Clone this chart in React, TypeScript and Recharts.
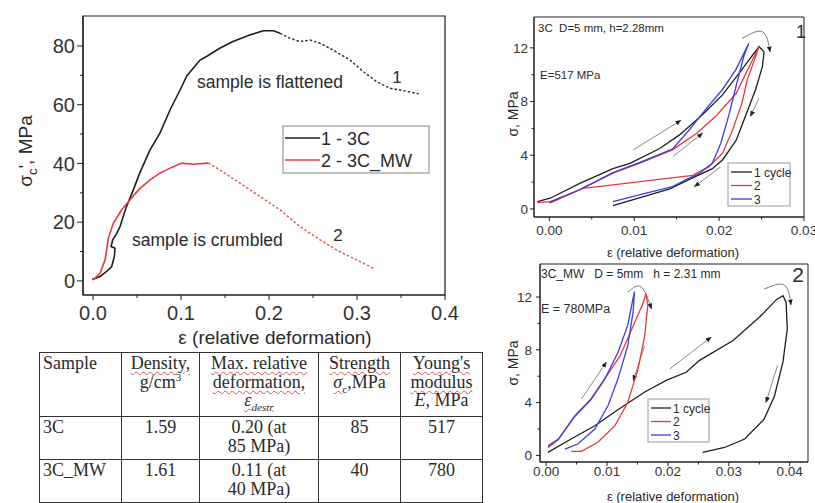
import React from 'react';
import { LineChart, Line, XAxis, YAxis, ReferenceArea, ReferenceLine } from 'recharts';

type Pt = { x: number; y: number };
const toPts = (a: number[][]): Pt[] => a.map(([x, y]) => ({ x, y }));

// ---------------- main chart (compression curves) ----------------
const MAIN_SERIES_NAMES = ['1 - 3C', '2 - 3C_MW'];
const MAIN_3C_SOLID = [
  [-0.001, 0.5], [0.008, 1.5], [0.0155, 3.2], [0.0212, 4.9], [0.0242, 8.3], [0.025, 11.1], [0.0205, 11.7],
  [0.0224, 14], [0.0269, 16.2], [0.0307, 18.5], [0.038, 25.3], [0.0458, 31], [0.053, 36.7], [0.0648, 44.6],
  [0.076, 50.3], [0.0875, 58.2], [0.0989, 65], [0.1065, 69.8], [0.1216, 75.2], [0.129, 76.4], [0.144, 79.2],
  [0.159, 81.5], [0.178, 83.7], [0.1935, 85.2], [0.205, 85.2], [0.2125, 84.3],
];
const MAIN_3C_DASHED = [
  [0.2125, 84.3], [0.224, 82.6], [0.235, 81.5], [0.2466, 82], [0.258, 80.9], [0.273, 78.6], [0.292, 75.2],
  [0.307, 71.3], [0.322, 67.9], [0.3375, 65.6], [0.3526, 64.8], [0.37, 63.7],
];
const MAIN_MW_SOLID = [
  [0, 0.3], [0.008, 2.6], [0.0136, 7.1], [0.0174, 14.5], [0.023, 19.6], [0.0326, 24.2], [0.042, 27.6],
  [0.0534, 31.5], [0.0648, 34.4], [0.076, 36.7], [0.0875, 38.4], [0.1008, 40.1], [0.114, 39.7], [0.131, 40.1],
];
const MAIN_MW_DASHED = [
  [0.131, 40.1], [0.144, 37.8], [0.167, 33.3], [0.19, 28.7], [0.2125, 24.2], [0.235, 18.5], [0.258, 14],
  [0.28, 10], [0.3, 7.1], [0.3205, 4.0],
];
const MAIN_X_TICKS = [0, 0.05, 0.1, 0.15, 0.2, 0.25, 0.3, 0.35, 0.4];
const MAIN_Y_TICKS = [0, 10, 20, 30, 40, 50, 60, 70, 80];
const MAIN_X_DOMAIN = [-0.0114, 0.4];
const MAIN_Y_DOMAIN = [-4.8, 90.2];

// ---------------- cyclic chart 1 (3C) ----------------
const CYCLE_NAMES = ['1 cycle', '2', '3'];
const C1_CYCLE1 = [
  [-0.0014, 0.54], [0.0001, 0.8], [0.0036, 1.9], [0.0075, 3.0], [0.0095, 3.4], [0.013, 4.5], [0.0153, 5.5],
  [0.018, 7.0], [0.0204, 8.5], [0.0227, 10.4], [0.0247, 12.1], [0.0253, 11.7], [0.0251, 10.6], [0.0243, 8.9],
  [0.0231, 6.9], [0.022, 5.1], [0.0204, 3.65], [0.0192, 3.0], [0.0165, 2.2], [0.0142, 1.5], [0.011, 0.9],
  [0.0075, 0.25],
];
const C1_CYCLE2 = [
  [-0.0014, 0.47], [0.0001, 0.55], [0.0036, 1.42], [0.0075, 2.66], [0.0106, 3.4], [0.0145, 4.4], [0.0173, 5.6],
  [0.0196, 6.9], [0.022, 8.6], [0.0247, 12.1], [0.0243, 11.35], [0.0233, 9.6], [0.0227, 7.9], [0.0216, 5.9],
  [0.0204, 4.15], [0.0188, 3.15], [0.0169, 2.5], [0.004, 1.54], [0.0001, 0.45],
];
const C1_CYCLE3 = [
  [0.0, 0.47], [0.0036, 1.45], [0.0075, 2.7], [0.0106, 3.45], [0.0145, 4.45], [0.0165, 5.9], [0.0184, 7.4],
  [0.0204, 8.9], [0.022, 10.4], [0.0235, 12.35], [0.0229, 11.35], [0.0221, 9.4], [0.0212, 7.1], [0.0202, 4.9],
  [0.0192, 3.4], [0.0177, 2.66], [0.0165, 2.3], [0.0145, 1.66], [0.0114, 1.17], [0.0075, 0.54],
];
const C1_ARROWS = [
  [0.0099, 4.4, 0.0155, 6.6], [0.01454, 3.9, 0.01805, 5.64], [0.0202, 3.15, 0.0171, 1.66], [0.0247, 8.25, 0.0237, 6.9],
];
const C1_ARC = [[0.0227, 12.7], [0.0251, 13.2], [0.026, 11.7]];
const C1_X_TICKS = [0, 0.005, 0.01, 0.015, 0.02, 0.025, 0.03];
const C1_Y_TICKS = [0, 2, 4, 6, 8, 10, 12];
const C1_X_DOMAIN = [-0.0018, 0.03];
const C1_Y_DOMAIN = [-0.6, 14.3];

// ---------------- cyclic chart 2 (3C_MW) ----------------
const C2_CYCLE1 = [
  [0.0003, 0.23], [0.0041, 1.24], [0.008, 2.25], [0.0116, 3.4], [0.0162, 4.8], [0.0198, 5.7], [0.023, 6.3],
  [0.0252, 7.2], [0.0307, 8.7], [0.0351, 10.5], [0.0378, 11.8], [0.0389, 12.1], [0.0394, 11.6], [0.0396, 9.6],
  [0.0389, 7.1], [0.0375, 4.5], [0.0358, 2.75], [0.0326, 1.24], [0.0293, 0.6], [0.0257, 0.23],
];
const C2_CYCLE2 = [
  [0.0003, 0.74], [0.002, 1.24], [0.0047, 3.0], [0.0074, 4.3], [0.0096, 5.8], [0.0121, 7.5], [0.0141, 9.6],
  [0.0158, 11.4], [0.0164, 12.25], [0.0167, 11.4], [0.0162, 9.1], [0.0151, 6.55], [0.0134, 4.0], [0.0113, 2.25],
  [0.0085, 1.0], [0.0058, 0.3], [0.0041, 0.3],
];
const C2_CYCLE3 = [
  [0.0003, 0.6], [0.002, 1.2], [0.0047, 2.95], [0.0074, 4.25], [0.0096, 5.75], [0.0118, 7.8], [0.0134, 9.85],
  [0.0145, 12.4], [0.0143, 10.9], [0.0134, 8.3], [0.0118, 5.8], [0.0102, 3.8], [0.008, 2.0], [0.0052, 0.86],
  [0.0031, 0.48],
];
const C2_ARROWS = [
  [0.0058, 4.27, 0.0099, 7.06], [0.0162, 8.33, 0.0143, 5.67], [0.0203, 6.55, 0.0271, 8.96], [0.038, 6.81, 0.0361, 4.02],
];
const C2_ARC_A = [[0.01344, 12.38], [0.0156, 12.76], [0.0173, 11.1]];
const C2_ARC_B = [[0.0358, 12.6], [0.0391, 12.9], [0.0402, 11.4]];
const C2_X_TICKS = [0, 0.005, 0.01, 0.015, 0.02, 0.025, 0.03, 0.035, 0.04];
const C2_Y_TICKS = [0, 2, 4, 6, 8, 10, 12];
const C2_X_DOMAIN = [-0.001, 0.043];
const C2_Y_DOMAIN = [-0.5, 14.5];

// ---------------- table ----------------
const TABLE_ROWS = [
  { sample: '3C', density: '1.59', maxDef: ['0.20 (at', '85 MPa)'], strength: '85', modulus: '517' },
  { sample: '3C_MW', density: '1.61', maxDef: ['0.11 (at', '40 MPa)'], strength: '40', modulus: '780' },
];

const SANS = '"Liberation Sans", Arial, Helvetica, sans-serif';
const SERIF = '"Liberation Serif", "Times New Roman", serif';
const INK = '#1e1e1e';
const RED = '#e8383d';
const BLUE = '#3c3ce0';

type TickCfg = { isMajor: (v: number) => boolean; fmt: (v: number) => string; font: number; major: number; minor: number; offset: number };

const makeXTick = (c: TickCfg) => (props: any) => {
  const { x, y, payload } = props;
  const v = payload.value;
  const maj = c.isMajor(v);
  return (
    <g>
      <line x1={x} x2={x} y1={y} y2={y + (maj ? c.major : c.minor)} stroke={INK} strokeWidth={1} />
      {maj && (
        <text x={x} y={y + c.offset} textAnchor="middle" fontSize={c.font} fill="#333" fontFamily={SANS}>
          {c.fmt(v)}
        </text>
      )}
    </g>
  );
};
const makeYTick = (c: TickCfg) => (props: any) => {
  const { x, y, payload } = props;
  const v = payload.value;
  const maj = c.isMajor(v);
  return (
    <g>
      <line x1={x} x2={x - (maj ? c.major : c.minor)} y1={y} y2={y} stroke={INK} strokeWidth={1} />
      {maj && (
        <text x={x - c.offset} y={y} dy="0.36em" textAnchor="end" fontSize={c.font} fill="#333" fontFamily={SANS}>
          {c.fmt(v)}
        </text>
      )}
    </g>
  );
};

const near = (v: number, step: number) => Math.abs(v / step - Math.round(v / step)) < 1e-6;

const lineProps = { type: 'linear' as const, dataKey: 'y', dot: false, isAnimationActive: false, activeDot: false };

function MainChart() {
  return (
    <LineChart width={460} height={345} margin={{ top: 16, right: 15, bottom: 0, left: 0 }}>
      <XAxis
        dataKey="x" type="number" domain={MAIN_X_DOMAIN} allowDataOverflow ticks={MAIN_X_TICKS} interval={0}
        height={50} tickSize={0} tickMargin={0} axisLine={{ stroke: INK, strokeWidth: 1.2 }}
        tick={makeXTick({ isMajor: (v) => near(v, 0.1), fmt: (v) => v.toFixed(1), font: 20, major: 5, minor: 3, offset: 25 })}
      />
      <YAxis
        type="number" domain={MAIN_Y_DOMAIN} allowDataOverflow ticks={MAIN_Y_TICKS} interval={0}
        width={83} tickSize={0} tickMargin={0} axisLine={{ stroke: INK, strokeWidth: 1.2 }}
        tick={makeYTick({ isMajor: (v) => near(v, 20), fmt: (v) => String(v), font: 20, major: 6, minor: 3, offset: 8 })}
      />
      <ReferenceArea x1={MAIN_X_DOMAIN[0]} x2={MAIN_X_DOMAIN[1]} y1={MAIN_Y_DOMAIN[0]} y2={MAIN_Y_DOMAIN[1]}
        fill="none" stroke={INK} strokeWidth={1.2} fillOpacity={0} ifOverflow="visible" />
      <Line {...lineProps} data={toPts(MAIN_3C_SOLID)} stroke={INK} strokeWidth={1.6} />
      <Line {...lineProps} data={toPts(MAIN_3C_DASHED)} stroke="#333" strokeWidth={1.5} strokeDasharray="2.5 2" />
      <Line {...lineProps} data={toPts(MAIN_MW_SOLID)} stroke={RED} strokeWidth={1.6} />
      <Line {...lineProps} data={toPts(MAIN_MW_DASHED)} stroke="#e85858" strokeWidth={1.5} strokeDasharray="2.5 2" />
    </LineChart>
  );
}

function CycleChart(props: {
  width: number; height: number; margin: any; yWidth: number; xHeight: number;
  xd: number[]; yd: number[]; xt: number[]; yt: number[]; xOff: number; yOff: number;
  c1: number[][]; c2: number[][]; c3: number[][]; arrows: number[][]; arcs: number[][][];
}) {
  const p = props;
  return (
    <LineChart width={p.width} height={p.height} margin={p.margin}>
      <XAxis
        dataKey="x" type="number" domain={p.xd} allowDataOverflow ticks={p.xt} interval={0}
        height={p.xHeight} tickSize={0} tickMargin={0} axisLine={{ stroke: INK, strokeWidth: 1 }}
        tick={makeXTick({ isMajor: (v) => near(v, 0.01), fmt: (v) => v.toFixed(2), font: 13.5, major: 4, minor: 2.5, offset: p.xOff })}
      />
      <YAxis
        type="number" domain={p.yd} allowDataOverflow ticks={p.yt} interval={0}
        width={p.yWidth} tickSize={0} tickMargin={0} axisLine={{ stroke: INK, strokeWidth: 1 }}
        tick={makeYTick({ isMajor: (v) => near(v, 4), fmt: (v) => String(v), font: 13.5, major: 4, minor: 2.5, offset: p.yOff })}
      />
      <ReferenceArea x1={p.xd[0]} x2={p.xd[1]} y1={p.yd[0]} y2={p.yd[1]}
        fill="none" stroke={INK} strokeWidth={1} fillOpacity={0} ifOverflow="visible" />
      {p.arrows.map((a, i) => (
        <ReferenceLine key={'a' + i} segment={[{ x: a[0], y: a[1] }, { x: a[2], y: a[3] }]} stroke="#8a8a8a"
          strokeWidth={1} ifOverflow="visible" markerEnd="url(#ah)" />
      ))}
      {p.arcs.map((a, i) => (
        <Line key={'arc' + i} {...lineProps} type="natural" data={toPts(a)} stroke="#777" strokeWidth={1} markerEnd="url(#ah)" />
      ))}
      <Line {...lineProps} data={toPts(p.c1)} stroke={INK} strokeWidth={1.3} />
      <Line {...lineProps} data={toPts(p.c2)} stroke={RED} strokeWidth={1.3} />
      <Line {...lineProps} data={toPts(p.c3)} stroke={BLUE} strokeWidth={1.3} />
    </LineChart>
  );
}

const W = ({ children }: { children: React.ReactNode }) => (
  <span style={{ textDecoration: 'underline wavy #e05050', textDecorationThickness: '1px', textUnderlineOffset: '2px' }}>{children}</span>
);

function DataTable() {
  const td: React.CSSProperties = { border: '1.5px solid #333', padding: '1px 3px 0', verticalAlign: 'top', textAlign: 'center', overflow: 'hidden' };
  const tl: React.CSSProperties = { ...td, textAlign: 'left' };
  const sub: React.CSSProperties = { fontSize: '0.62em', verticalAlign: 'sub', lineHeight: 0 };
  return (
    <table style={{
      position: 'absolute', left: 39, top: 352, width: 443, borderCollapse: 'collapse', tableLayout: 'fixed',
      fontFamily: SERIF, fontSize: 18, lineHeight: '18.5px', color: '#2a2a2a', background: '#fff',
    }}>
      <colgroup>
        <col style={{ width: 82 }} /><col style={{ width: 78 }} /><col style={{ width: 119 }} /><col style={{ width: 82 }} /><col style={{ width: 82 }} />
      </colgroup>
      <tbody>
        <tr style={{ height: 64 }}>
          <td style={tl}>Sample</td>
          <td style={td}><W>Density,</W><br />g/cm<span style={{ fontSize: '0.62em', verticalAlign: 'super', lineHeight: 0 }}>3</span></td>
          <td style={td}><W>Max. relative</W><br /><W>deformation,</W><br /><W><i>ε<span style={sub}>destr</span></i></W></td>
          <td style={td}><W>Strength</W><br /><W><i>σ</i><span style={sub}>c</span></W>,MPa</td>
          <td style={td}><W>Young's</W><br /><W>modulus</W><br /><i>E</i>, MPa</td>
        </tr>
        {TABLE_ROWS.map((r) => (
          <tr key={r.sample} style={{ height: 43 }}>
            <td style={tl}>{r.sample}</td>
            <td style={td}>{r.density}</td>
            <td style={td}>{r.maxDef[0]}<br />{r.maxDef[1]}</td>
            <td style={td}>{r.strength}</td>
            <td style={td}>{r.modulus}</td>
          </tr>
        ))}
      </tbody>
    </table>
  );
}

function Overlay() {
  const t = { fontFamily: SANS, fill: '#2a2a2a', style: { whiteSpace: 'pre' as const } };
  return (
    <svg width={815} height={503} style={{ position: 'absolute', left: 0, top: 0, pointerEvents: 'none' }}>
      <defs>
        <marker id="ah" viewBox="0 0 10 10" refX="9" refY="5" markerWidth="6" markerHeight="6" orient="auto">
          <path d="M0,1 L10,5 L0,9 z" fill="#222" />
        </marker>
      </defs>
      {/* main chart texts */}
      <text {...t} transform="translate(32,151) rotate(-90)" textAnchor="middle" fontSize={19}>
        σ<tspan dy={5} fontSize={13}>c</tspan><tspan dy={-5}>', MPa</tspan>
      </text>
      <text {...t} x={275} y={344} textAnchor="middle" fontSize={19}>ε (relative deformation)</text>
      <text {...t} x={197} y={88} fontSize={17.5}>sample is flattened</text>
      <text {...t} x={397} y={83} textAnchor="middle" fontSize={17}>1</text>
      <text {...t} x={132} y={246} fontSize={17.5}>sample is crumbled</text>
      <text {...t} x={338} y={241} textAnchor="middle" fontSize={17}>2</text>
      <rect x={283} y={126} width={146} height={47} fill="#fff" stroke="#999" strokeWidth={1.2} />
      <line x1={285} x2={320} y1={138} y2={138} stroke={INK} strokeWidth={1.6} />
      <line x1={285} x2={320} y1={160} y2={160} stroke={RED} strokeWidth={1.6} />
      <text {...t} x={321} y={144.5} fontSize={18}>{MAIN_SERIES_NAMES[0]}</text>
      <text {...t} x={321} y={166.5} fontSize={18}>{MAIN_SERIES_NAMES[1]}</text>

      {/* chart 1 texts */}
      <text {...t} transform="translate(518,114) rotate(-90)" textAnchor="middle" fontSize={14}>σ, MPa</text>
      <text {...t} x={673} y={257} textAnchor="middle" fontSize={13}>ε (relative deformation)</text>
      <text {...t} x={538} y={32} fontSize={11.5}>3C  D=5 mm, h=2.28mm</text>
      <text {...t} x={540} y={79} fontSize={11.5}>E=517 MPa</text>
      <text {...t} x={801} y={38} textAnchor="middle" fontSize={18}>1</text>
      <rect x={728} y={163} width={62} height={43} fill="#fff" stroke="#999" strokeWidth={1} />
      {[INK, RED, BLUE].map((c, i) => (
        <g key={'l1' + i}>
          <line x1={731} x2={752} y1={172 + i * 13.5} y2={172 + i * 13.5} stroke={c} strokeWidth={1.3} />
          <text {...t} x={754} y={176.5 + i * 13.5} fontSize={12}>{CYCLE_NAMES[i]}</text>
        </g>
      ))}

      {/* chart 2 texts */}
      <text {...t} transform="translate(518,363) rotate(-90)" textAnchor="middle" fontSize={14}>σ, MPa</text>
      <text {...t} x={673} y={501} textAnchor="middle" fontSize={13}>ε (relative deformation)</text>
      <text {...t} x={541} y={278} fontSize={12}>3C_MW   D = 5mm   h = 2.31 mm</text>
      <text {...t} x={541} y={313} fontSize={12.5}>E = 780MPa</text>
      <text {...t} x={798} y={282} textAnchor="middle" fontSize={21}>2</text>
      <rect x={648} y={399} width={61} height={43} fill="#fff" stroke="#999" strokeWidth={1} />
      {[INK, RED, BLUE].map((c, i) => (
        <g key={'l2' + i}>
          <line x1={651} x2={671} y1={408 + i * 13.5} y2={408 + i * 13.5} stroke={c} strokeWidth={1.3} />
          <text {...t} x={673} y={412.5 + i * 13.5} fontSize={12}>{CYCLE_NAMES[i]}</text>
        </g>
      ))}
    </svg>
  );
}

export default function App() {
  return (
    <div style={{ position: 'absolute', left: 0, top: 0, width: 815, height: 503, background: '#fff', overflow: 'hidden' }}>
      <div style={{ position: 'absolute', left: 0, top: 0 }}>
        <MainChart />
      </div>
      <div style={{ position: 'absolute', left: 500, top: 0 }}>
        <CycleChart width={315} height={240} margin={{ top: 17, right: 11, bottom: 0, left: 0 }} yWidth={34} xHeight={23}
          xd={C1_X_DOMAIN} yd={C1_Y_DOMAIN} xt={C1_X_TICKS} yt={C1_Y_TICKS} xOff={18} yOff={6}
          c1={C1_CYCLE1} c2={C1_CYCLE2} c3={C1_CYCLE3} arrows={C1_ARROWS} arcs={[C1_ARC]} />
      </div>
      <div style={{ position: 'absolute', left: 500, top: 240 }}>
        <CycleChart width={315} height={263} margin={{ top: 24, right: 7, bottom: 0, left: 0 }} yWidth={40} xHeight={41}
          xd={C2_X_DOMAIN} yd={C2_Y_DOMAIN} xt={C2_X_TICKS} yt={C2_Y_TICKS} xOff={14} yOff={8}
          c1={C2_CYCLE1} c2={C2_CYCLE2} c3={C2_CYCLE3} arrows={C2_ARROWS} arcs={[C2_ARC_A, C2_ARC_B]} />
      </div>
      <DataTable />
      <Overlay />
    </div>
  );
}
